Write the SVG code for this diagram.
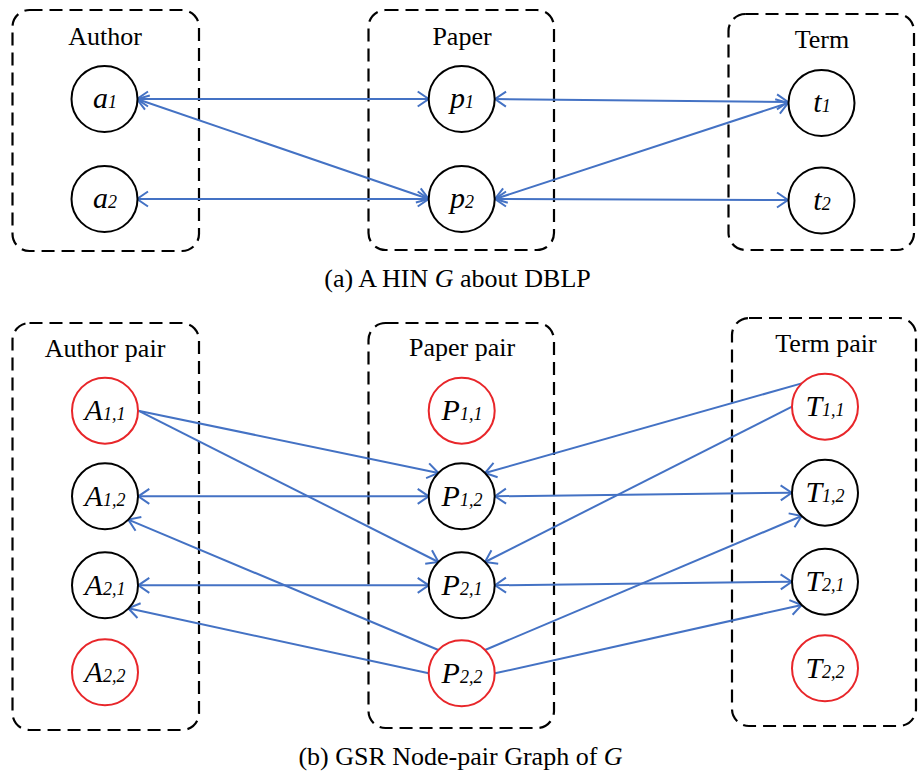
<svg xmlns="http://www.w3.org/2000/svg" width="918" height="772" viewBox="0 0 918 772">
<style>
.box{fill:none;stroke:#000;stroke-width:2.2;stroke-dasharray:13 7}
.title{font-family:"Liberation Serif","Times New Roman",serif;font-size:26px;fill:#000;text-anchor:middle}
.n{fill:#fff;stroke:#000;stroke-width:2}
.r{fill:#fff;stroke:#E8262A;stroke-width:2}
.lbl{font-family:"Liberation Serif","Times New Roman",serif;font-style:italic;font-size:30px;fill:#000;text-anchor:middle}
.sub{font-size:18px}
.e{fill:none;stroke:#4472C4;stroke-width:2}
.both{marker-start:url(#ah);marker-end:url(#ah)}
.one{marker-end:url(#ah)}
</style>
<defs>
<marker id="ah" viewBox="-12 -9 14 18" refX="0" refY="0" markerWidth="14" markerHeight="18" markerUnits="userSpaceOnUse" orient="auto-start-reverse">
<path d="M-11,-7.5 L0,0 L-11,7.5" fill="none" stroke="#4472C4" stroke-width="2"/>
</marker>
</defs>
<rect width="918" height="772" fill="#fff"/>

<!-- (a) containers -->
<g id="grpAuthor"><rect class="box" x="12.5" y="10" width="186.5" height="241" rx="17"/><text class="title" x="105" y="45">Author</text></g>
<g id="grpPaper"><rect class="box" x="368.5" y="10" width="185.5" height="240" rx="17"/><text class="title" x="462" y="45">Paper</text></g>
<g id="grpTerm"><rect class="box" x="728.5" y="14" width="185.5" height="236" rx="17"/><text class="title" x="822" y="48">Term</text></g>

<!-- (b) containers -->
<g id="grpAuthorPair"><rect class="box" x="12.5" y="323" width="186.5" height="407" rx="17"/><text class="title" x="105" y="357">Author pair</text></g>
<g id="grpPaperPair"><rect class="box" x="368.5" y="323" width="185.5" height="405" rx="17"/><text class="title" x="462" y="356">Paper pair</text></g>
<g id="grpTermPair"><rect class="box" x="732" y="318" width="184" height="408" rx="17"/><text class="title" x="826" y="352">Term pair</text></g>

<!-- connectors -->
<g id="connectors">
<line class="e both" x1="137" y1="99" x2="428.7" y2="99"/>
<line class="e both" x1="137" y1="99" x2="428.7" y2="199"/>
<line class="e both" x1="137" y1="199" x2="428.7" y2="199"/>
<line class="e both" x1="495" y1="99" x2="788" y2="102"/>
<line class="e both" x1="495" y1="199" x2="788" y2="103"/>
<line class="e both" x1="495" y1="199" x2="788" y2="200"/>

<line class="e one" x1="138.3" y1="410.7" x2="438.4" y2="473"/>
<line class="e one" x1="138.3" y1="410.7" x2="438.4" y2="562"/>
<line class="e both" x1="138.3" y1="496.3" x2="428.7" y2="496.3"/>
<line class="e one" x1="438.4" y1="650" x2="128.3" y2="519.6"/>
<line class="e both" x1="138.3" y1="585.3" x2="428.7" y2="585.3"/>
<line class="e one" x1="428.7" y1="673.3" x2="128.3" y2="608.3"/>
<line class="e one" x1="801.7" y1="383.4" x2="485" y2="473"/>
<line class="e one" x1="792" y1="406.7" x2="485" y2="562"/>
<line class="e both" x1="495" y1="496.3" x2="791.7" y2="492.7"/>
<line class="e one" x1="485" y1="650" x2="801.7" y2="516"/>
<line class="e both" x1="495" y1="585.3" x2="791.7" y2="581.7"/>
<line class="e one" x1="495" y1="673.3" x2="801.7" y2="605"/>
</g>

<!-- (a) nodes -->
<g id="a1"><circle class="n" cx="104.5" cy="99" r="33"/><text class="lbl" x="105" y="108">a<tspan class="sub">1</tspan></text></g>
<g id="a2"><circle class="n" cx="104.5" cy="199" r="33"/><text class="lbl" x="105" y="208">a<tspan class="sub">2</tspan></text></g>
<g id="p1"><circle class="n" cx="461.7" cy="99" r="33"/><text class="lbl" x="462" y="108">p<tspan class="sub">1</tspan></text></g>
<g id="p2"><circle class="n" cx="461.7" cy="199" r="33"/><text class="lbl" x="462" y="208">p<tspan class="sub">2</tspan></text></g>
<g id="t1"><circle class="n" cx="821.5" cy="103" r="33"/><text class="lbl" x="822" y="112">t<tspan class="sub">1</tspan></text></g>
<g id="t2"><circle class="n" cx="821.5" cy="200.5" r="33"/><text class="lbl" x="822" y="209.5">t<tspan class="sub">2</tspan></text></g>

<!-- (b) nodes -->
<g id="A11"><circle class="r" cx="105" cy="410.7" r="33"/><text class="lbl" x="105" y="420">A<tspan class="sub">1,1</tspan></text></g>
<g id="A12"><circle class="n" cx="105" cy="496.3" r="33"/><text class="lbl" x="105" y="506">A<tspan class="sub">1,2</tspan></text></g>
<g id="A21"><circle class="n" cx="105" cy="585.3" r="33"/><text class="lbl" x="105" y="595">A<tspan class="sub">2,1</tspan></text></g>
<g id="A22"><circle class="r" cx="105" cy="672.3" r="33"/><text class="lbl" x="105" y="682">A<tspan class="sub">2,2</tspan></text></g>
<g id="P11"><circle class="r" cx="461.7" cy="410.7" r="33"/><text class="lbl" x="462" y="420">P<tspan class="sub">1,1</tspan></text></g>
<g id="P12"><circle class="n" cx="461.7" cy="496.3" r="33"/><text class="lbl" x="462" y="506">P<tspan class="sub">1,2</tspan></text></g>
<g id="P21"><circle class="n" cx="461.7" cy="585.3" r="33"/><text class="lbl" x="462" y="595">P<tspan class="sub">2,1</tspan></text></g>
<g id="P22"><circle class="r" cx="461.7" cy="673.3" r="33"/><text class="lbl" x="462" y="683">P<tspan class="sub">2,2</tspan></text></g>
<g id="T11"><circle class="r" cx="825" cy="406.7" r="33"/><text class="lbl" x="825" y="416">T<tspan class="sub">1,1</tspan></text></g>
<g id="T12"><circle class="n" cx="825" cy="492.7" r="33"/><text class="lbl" x="825" y="502">T<tspan class="sub">1,2</tspan></text></g>
<g id="T21"><circle class="n" cx="825" cy="581.7" r="33"/><text class="lbl" x="825" y="591">T<tspan class="sub">2,1</tspan></text></g>
<g id="T22"><circle class="r" cx="825" cy="668.3" r="33"/><text class="lbl" x="825" y="678">T<tspan class="sub">2,2</tspan></text></g>

<!-- captions -->
<text class="title" x="457.5" y="287">(a) A HIN <tspan font-style="italic">G</tspan> about DBLP</text>
<text class="title" x="460.5" y="765">(b) GSR Node-pair Graph of <tspan font-style="italic">G</tspan></text>
</svg>
